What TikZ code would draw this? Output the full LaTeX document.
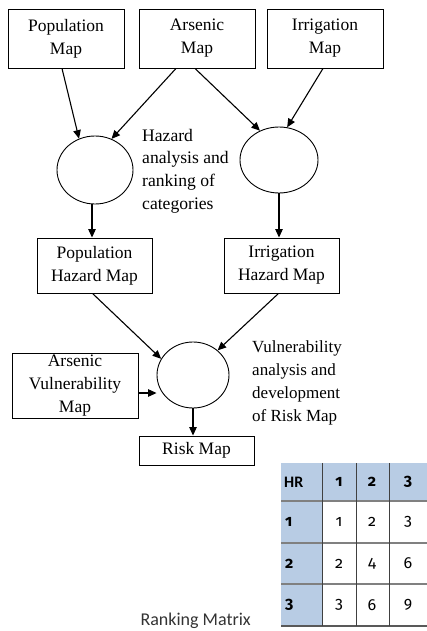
\documentclass[tikz,border=0pt]{standalone}
\usepackage{fontspec}
\setmainfont{Liberation Serif}
\newfontfamily\tabfont{Carlito}
\newfontfamily\tabnum[Numbers=OldStyle]{Fira Sans}
\usetikzlibrary{shapes.geometric,arrows.meta}
\definecolor{hrblue}{HTML}{B8CCE4}
\tikzset{
  mapbox/.style={draw,line width=0.9pt,rectangle,align=center,inner sep=0pt,
    font=\fontsize{17.5}{23}\selectfont},
  stage/.style={draw,line width=0.9pt,ellipse,inner sep=0pt},
  note/.style={align=left,anchor=west,inner sep=0pt,font=\fontsize{17.6}{22.7}\selectfont},
  flow/.style={line width=1.1pt,-{Triangle[length=8.5pt,width=7.5pt]}},
  cellnum/.style={font=\tabnum\fontsize{16}{18}\selectfont,inner sep=0pt},
}
\begin{document}
\begin{tikzpicture}[x=1pt,y=-1pt]
  \useasboundingbox (0,0) rectangle (427,631);

  \node[mapbox,minimum width=116pt,minimum height=59pt] (popmap) at (66,38.5) {Population\\Map};
  \node[mapbox,minimum width=116pt,minimum height=59pt] (arsmap) at (197,38.5) {Arsenic\\Map};
  \node[mapbox,minimum width=116pt,minimum height=59pt] (irrmap) at (325,38.5) {Irrigation\\Map};

  \node[stage,minimum width=76pt,minimum height=68pt] (popstage) at (95,170) {};
  \node[stage,minimum width=78pt,minimum height=66pt] (irrstage) at (279,160) {};
  \node[note] (hazardnote) at (142,171) {Hazard\\analysis and\\ranking of\\categories};

  \node[mapbox,minimum width=115pt,minimum height=55pt] (pophaz) at (94.5,265.5) {Population\\Hazard Map};
  \node[mapbox,minimum width=115pt,minimum height=55pt] (irrhaz) at (281.5,265.5) {Irrigation\\Hazard Map};

  \node[stage,minimum width=72pt,minimum height=66pt] (riskstage) at (193,375) {};
  \node[mapbox,minimum width=126pt,minimum height=65pt] (arsvul) at (75,385.5) {Arsenic\\Vulnerability\\Map};
  \node[note,font=\fontsize{17}{23}\selectfont] (vulnote) at (252,383) {Vulnerability\\analysis and\\development\\of Risk Map};
  \node[mapbox,minimum width=115pt,minimum height=29pt] (riskmap) at (196.5,450.5) {Risk Map};

  \draw[flow] ([xshift=-4pt]popmap.south) -- (popstage.117);
  \draw[flow] ([xshift=-21pt]arsmap.south) -- (popstage.62);
  \draw[flow] ([xshift=-2pt]arsmap.south) -- (irrstage.123);
  \draw[flow] ([xshift=-2pt]irrmap.south) -- (irrstage.76);
  \draw[flow] ([xshift=-3pt]popstage.south) -- ([xshift=-3pt]popstage.south |- pophaz.north);
  \draw[flow] (irrstage.south) -- (irrstage.south |- irrhaz.north);
  \draw[flow] ([xshift=-2pt]pophaz.south) -- (riskstage.153);
  \draw[flow] ([xshift=-3pt]irrhaz.south) -- (riskstage.45);
  \draw[flow] ([yshift=-7.5pt]arsvul.east) -- ([yshift=-7.5pt]arsvul.east -| riskstage.west);
  \draw[flow] (riskstage.south) -- (riskstage.south |- riskmap.north);

  \fill[hrblue] (281,463) rectangle (427,501);
  \fill[hrblue] (281,501) rectangle (322,626);
  \foreach \y in {501,543,584}
    \draw[line width=1.4pt,black!50] (281,\y) -- (427,\y);
  \draw[line width=2pt,black!65] (281,626) -- (427,626);
  \foreach \x in {322,356,389}
    \draw[line width=0.9pt,black!75] (\x,463) -- (\x,626);

  \node[font=\tabfont\bfseries\fontsize{16}{18}\selectfont,anchor=west,inner sep=0pt] (hr) at (284,482) {HR};
  \foreach \v [count=\i] in {339,372,408}
    \node[cellnum] (head\i) at (\v,482) {\bfseries\i};
  \foreach \r/\yy in {1/522,2/563.5,3/605}{
    \node[cellnum,anchor=west] (row\r) at (285,\yy) {\bfseries\r};
    \foreach \v [count=\c] in {339,372,408}
      \node[cellnum] (cell\r\c) at (\v,\yy) {\pgfmathparse{int(\r*\c)}\pgfmathresult};
  }
  \node[font=\tabfont\fontsize{18}{20}\selectfont,text=black!80,anchor=east,inner sep=0pt] (matrixcap) at (251,621) {Ranking Matrix};
\end{tikzpicture}
\end{document}
